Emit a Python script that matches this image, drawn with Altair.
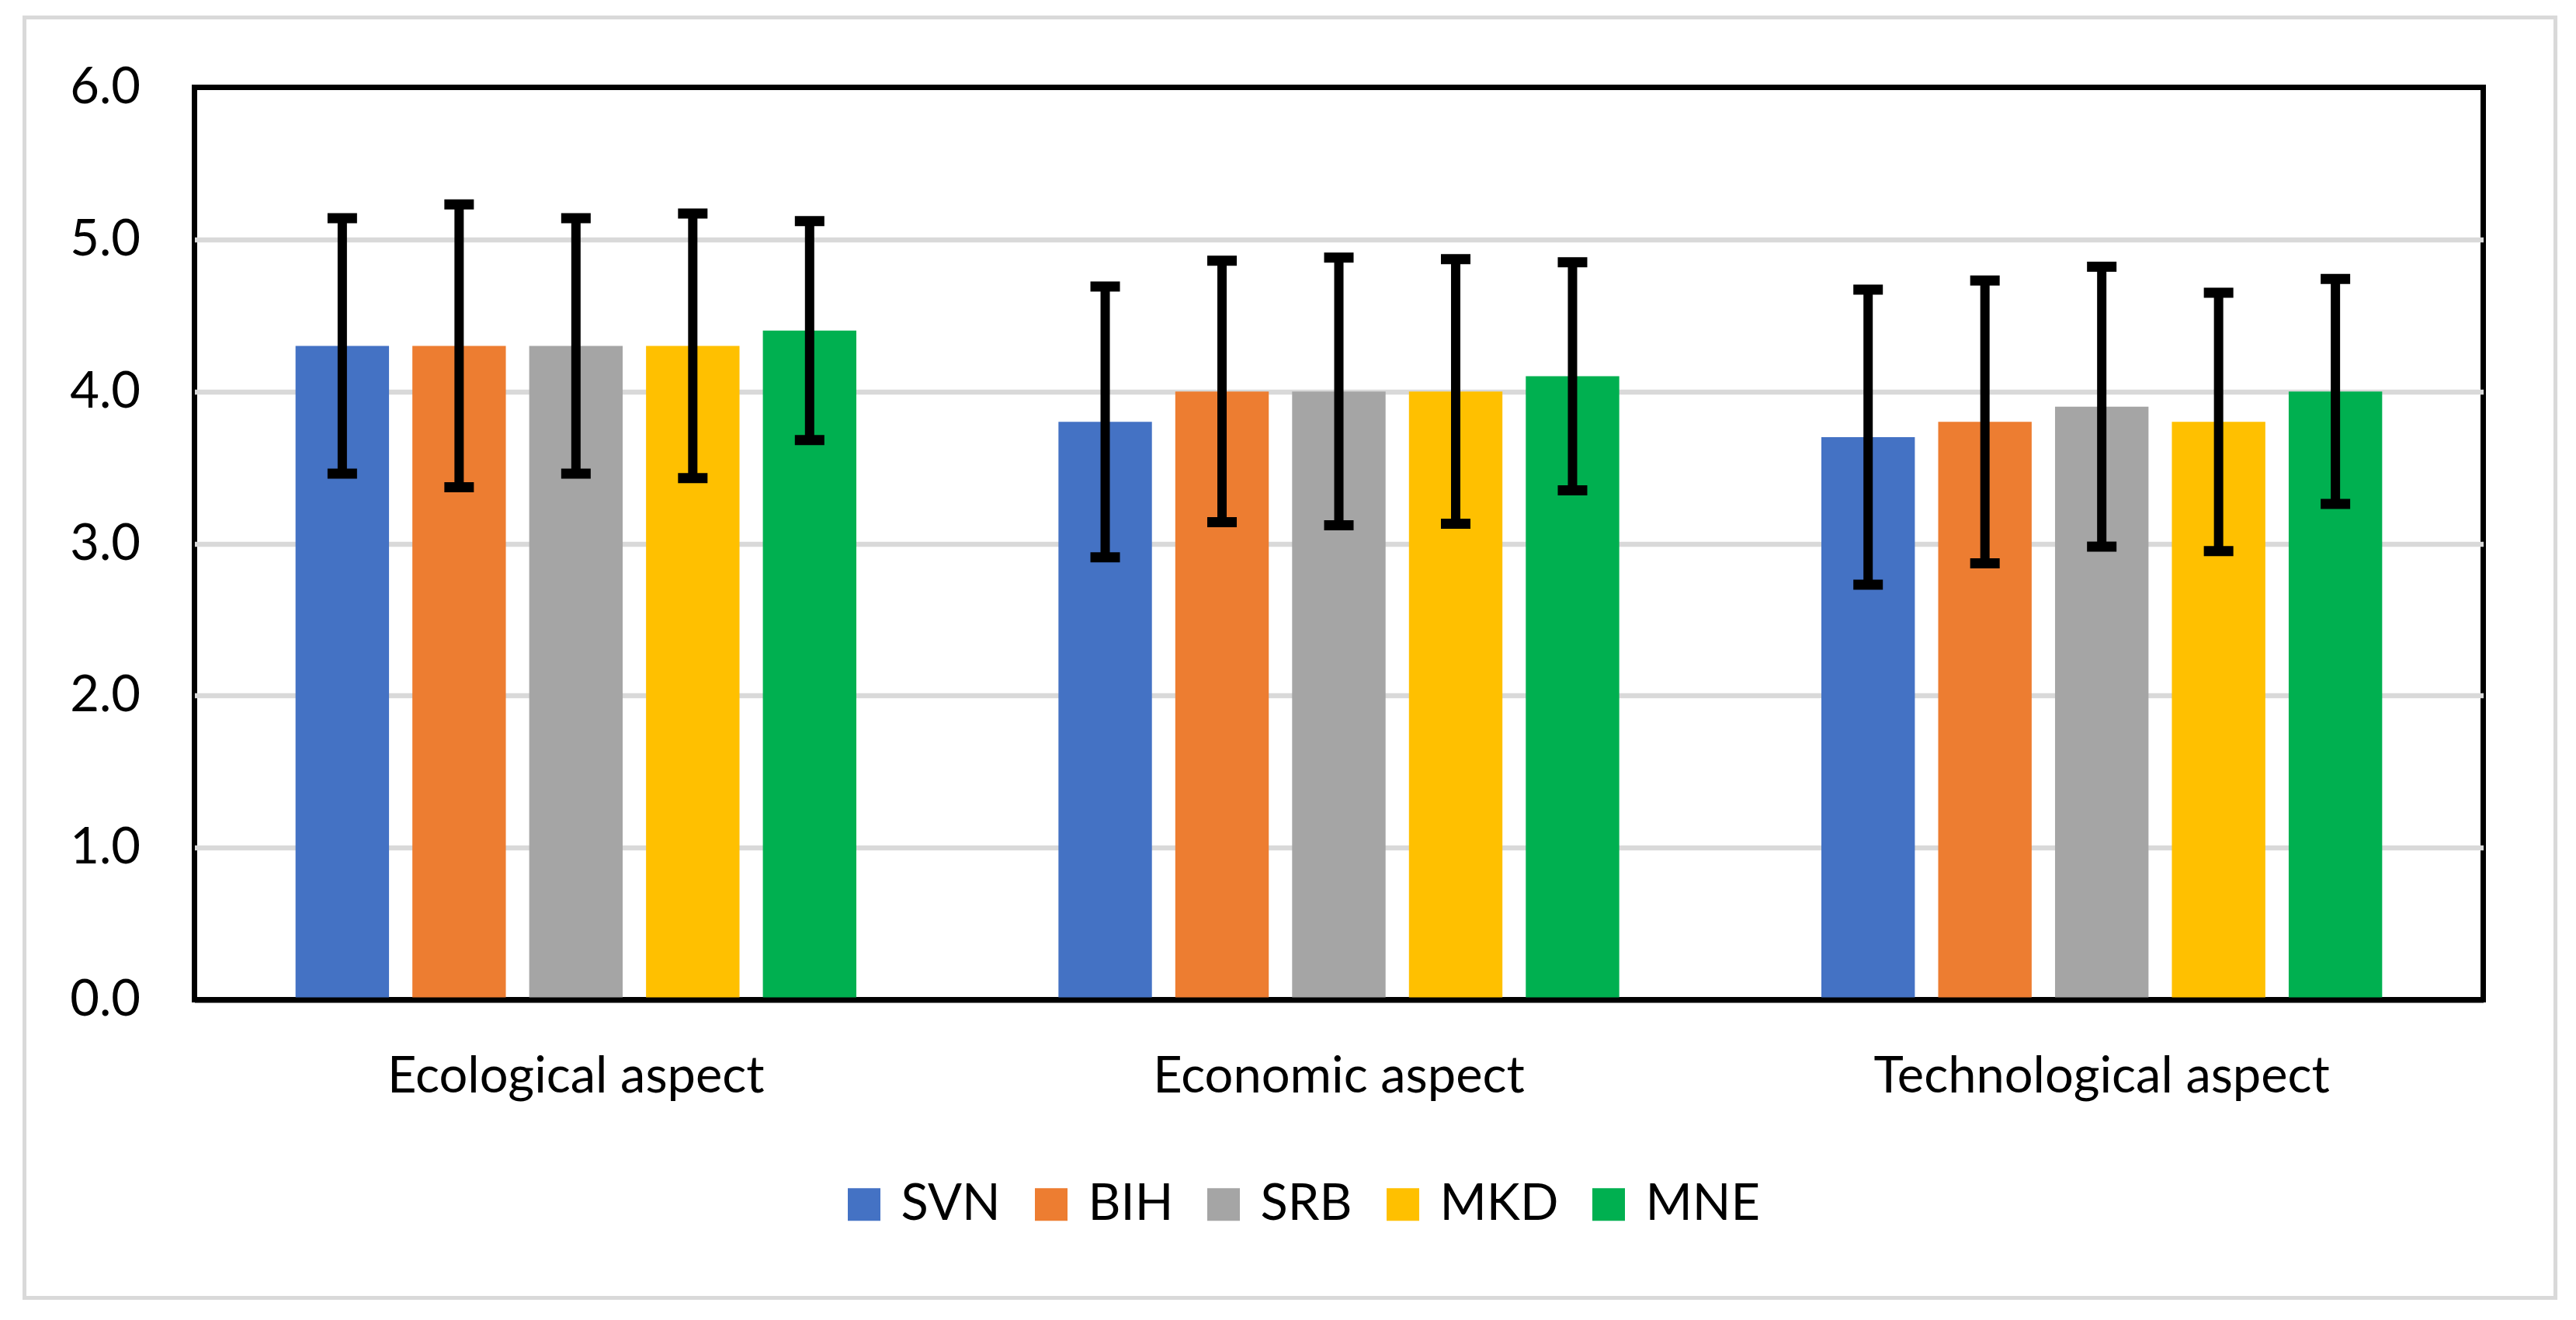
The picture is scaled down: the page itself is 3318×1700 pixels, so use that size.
import altair as alt
import pandas as pd

categories = ["Ecological aspect", "Economic aspect", "Technological aspect"]
countries = ["SVN", "BIH", "SRB", "MKD", "MNE"]
colors = ["#4472C4", "#ED7D31", "#A5A5A5", "#FFC000", "#00B050"]

# mean values per category (order of countries)
mean_ecological = [4.3, 4.3, 4.3, 4.3, 4.4]
mean_economic = [3.8, 4.0, 4.0, 4.0, 4.1]
mean_technological = [3.7, 3.8, 3.9, 3.8, 4.0]

# standard deviations (error bars)
sd_ecological = [0.84, 0.93, 0.84, 0.87, 0.72]
sd_economic = [0.89, 0.86, 0.88, 0.87, 0.75]
sd_technological = [0.97, 0.93, 0.92, 0.85, 0.74]

y_ticks = [0, 1, 2, 3, 4, 5, 6]

means = [mean_ecological, mean_economic, mean_technological]
sds = [sd_ecological, sd_economic, sd_technological]
rows = []
for ci, cat in enumerate(categories):
    for k, c in enumerate(countries):
        rows.append({"category": cat, "country": c, "mean": means[ci][k], "sd": sds[ci][k]})
df = pd.DataFrame(rows)

W, H = 2948, 1175
FONT = "Lato"
FS = 65

base = alt.Chart(df).transform_calculate(
    lo="datum.mean - datum.sd", hi="datum.mean + datum.sd"
).encode(
    x=alt.X(
        "category:N",
        sort=categories,
        scale=alt.Scale(paddingInner=0, paddingOuter=0),
        axis=alt.Axis(
            title=None, labelAngle=0, ticks=False, tickSize=0, domain=True,
            domainColor="black", domainWidth=7, labelPadding=68,
            labelFontSize=FS, labelFont=FONT, labelColor="black",
            labelLimit=2000, grid=False, zindex=1,
        ),
    ),
    xOffset=alt.XOffset(
        "country:N", sort=countries,
        scale=alt.Scale(paddingInner=0.2, paddingOuter=0.865),
    ),
)

yscale = alt.Scale(domain=[0, 6], nice=False)

bars = base.mark_bar().encode(
    y=alt.Y(
        "mean:Q",
        scale=yscale,
        axis=alt.Axis(
            title=None, values=y_ticks, format=".1f", ticks=False, tickSize=0,
            domain=False, labelPadding=70, labelFontSize=FS, labelFont=FONT,
            labelColor="black",
            gridColor={"condition": {"test": "datum.value == 0 || datum.value == 6",
                                     "value": "rgba(0,0,0,0)"},
                       "value": "#D9D9D9"},
            gridWidth=6.5,
        ),
    ),
    color=alt.Color(
        "country:N",
        sort=countries,
        scale=alt.Scale(domain=countries, range=colors),
        legend=alt.Legend(
            title=None, orient="none", direction="horizontal",
            legendX=830, legendY=1406, symbolType="square", symbolSize=1764,
            symbolStrokeWidth=0, labelFontSize=FS, labelFont=FONT,
            labelColor="black", labelOffset=15, columnPadding=32, padding=0,
        ),
    ),
)

rules = base.mark_rule(color="black", strokeWidth=12).encode(
    y=alt.Y("lo:Q", scale=yscale, title=None), y2="hi:Q"
)
cap_hi = base.mark_tick(color="black", thickness=13, size=38, orient="horizontal", opacity=1).encode(
    y=alt.Y("hi:Q", scale=yscale, title=None)
)
cap_lo = base.mark_tick(color="black", thickness=13, size=38, orient="horizontal", opacity=1).encode(
    y=alt.Y("lo:Q", scale=yscale, title=None)
)

border = alt.Chart(pd.DataFrame({"a": [0]})).mark_rect(
    fillOpacity=0, stroke="#D9D9D9", strokeWidth=5
).encode(
    x=alt.value(-219), x2=alt.value(W + 93), y=alt.value(-90), y2=alt.value(H + 384)
)

chart = alt.layer(border, bars, rules, cap_hi, cap_lo).properties(
    width=W, height=H,
    background="white",
    padding={"left": 20.5, "top": 11.5, "right": 0, "bottom": 0},
).configure_view(
    stroke="black", strokeWidth=7
)

chart.save("out.html", embed_options={"renderer": "svg", "actions": False})
